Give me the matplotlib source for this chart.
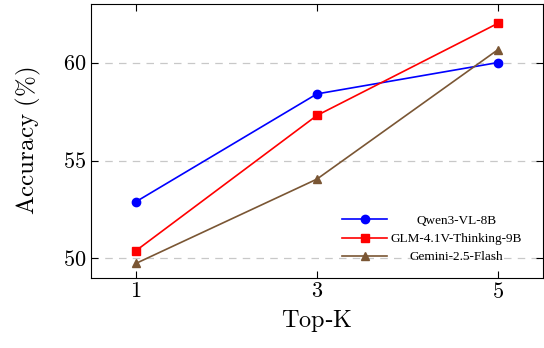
import matplotlib.pyplot as plt
from matplotlib.transforms import Affine2D

topk = [1, 3, 5]
qwen = [52.9, 58.4, 60.0]
glm = [50.4, 57.3, 62.0]
gemini = [49.75, 54.05, 60.65]
labels = ['Qwen3-VL-8B', 'GLM-4.1V-Thinking-9B', 'Gemini-2.5-Flash']

plt.rcParams['font.family'] = ['Liberation Serif', 'DejaVu Serif']
plt.rcParams['mathtext.fontset'] = 'cm'

fig = plt.figure(figsize=(5.44, 3.48), dpi=100)
ax = fig.add_axes([0.167, 0.201, 0.831, 0.788])

ax.plot(topk, qwen, color='blue', marker='o', markersize=6, lw=1.2, label=labels[0])
ax.plot(topk, glm, color='red', marker='s', markersize=6, lw=1.2, label=labels[1])
ax.plot(topk, gemini, color='#7a5634', marker='^', markersize=6, lw=1.2, label=labels[2])

ax.set_xlim(0.5, 5.5)
ax.set_ylim(49, 63)
ax.set_xticks(topk)
ax.set_xticklabels([f'${k}$' for k in topk], fontsize=16)
ax.set_yticks([50, 55, 60])
ax.set_yticklabels([f'${v}$' for v in [50, 55, 60]], fontsize=16)
ax.tick_params(direction='in', top=True, right=True, length=5, width=0.8)
ax.yaxis.grid(True, linestyle=(0, (6, 5)), color='#c8c8c8', lw=0.9)
ax.set_axisbelow(True)
for s in ax.spines.values():
    s.set_linewidth(0.8)

ax.set_xlabel(r'$\mathrm{Top}$-$\mathrm{K}$', fontsize=17.5)
ax.set_ylabel(r'$\mathrm{Accuracy\ (\%)}$', fontsize=18, labelpad=14)

leg = ax.legend(loc='lower right', bbox_to_anchor=(0.975, 0.02), fontsize=9.5,
                frameon=False, handlelength=3.4, handletextpad=0.3,
                labelspacing=0.45, borderaxespad=0.3)

# center the legend texts in their column
fig.canvas.draw()
r = fig.canvas.get_renderer()
widths = [t.get_window_extent(r).width for t in leg.get_texts()]
wmax = max(widths)
for t, w in zip(leg.get_texts(), widths):
    t.set_transform(t.get_transform() + Affine2D().translate((wmax - w) / 2, 0))

fig.savefig('out.png', dpi=100)
